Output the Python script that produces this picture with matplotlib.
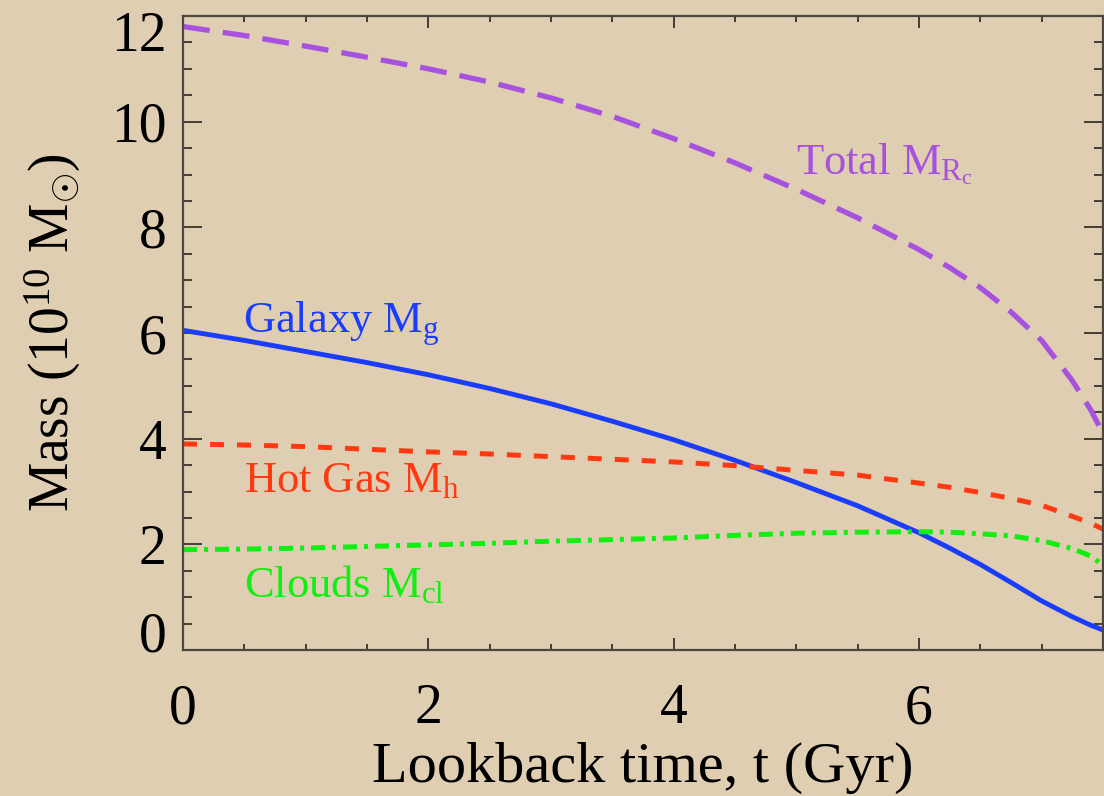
import matplotlib
matplotlib.use("Agg")
import matplotlib.pyplot as plt
import matplotlib.transforms as mtransforms
import numpy as np

plt.rcParams['font.family'] = ['Liberation Serif', 'DejaVu Serif']
plt.rcParams['mathtext.fontset'] = 'custom'
plt.rcParams['mathtext.rm'] = 'Liberation Serif'
plt.rcParams['mathtext.it'] = 'Liberation Serif:italic'

# lookback time (Gyr) and masses (10^10 Msun)
t = [0.0, 0.5, 1.0, 1.5, 2.0, 2.5, 3.0, 3.5, 4.0, 4.5, 5.0, 5.5, 6.0,
     6.25, 6.5, 6.75, 7.0, 7.25, 7.4, 7.5]
m_total = [11.80, 11.63, 11.43, 11.22, 11.00, 10.75, 10.45, 10.10, 9.68, 9.22,
           8.72, 8.18, 7.58, 7.24, 6.86, 6.40, 5.86, 5.10, 4.55, 4.10]
m_galaxy = [6.05, 5.86, 5.65, 5.44, 5.21, 4.95, 4.66, 4.33, 3.98, 3.59,
            3.17, 2.73, 2.22, 1.93, 1.62, 1.28, 0.93, 0.63, 0.47, 0.38]
m_hot = [3.90, 3.88, 3.85, 3.80, 3.75, 3.71, 3.66, 3.61, 3.56, 3.49,
         3.40, 3.31, 3.16, 3.08, 2.98, 2.87, 2.74, 2.53, 2.40, 2.29]
m_clouds = [1.90, 1.91, 1.93, 1.96, 1.99, 2.02, 2.06, 2.09, 2.12, 2.17,
            2.21, 2.23, 2.24, 2.23, 2.20, 2.16, 2.07, 1.92, 1.78, 1.61]

yticks = [0, 2, 4, 6, 8, 10, 12]
xticks = [0, 2, 4, 6]

bg = '#dfceb1'
fig = plt.figure(figsize=(11.04, 7.96), dpi=100, facecolor=bg)
ax = fig.add_axes([0.1658, 0.1834, 0.8332, 0.7965])
ax.set_facecolor(bg)

ax.plot(t, m_total, color='#a652df', lw=3.8, dashes=(5.1, 2.5))
ax.plot(t, m_galaxy, color='#1a3cfb', lw=3.5)
ax.plot(t, m_hot, color='#ff3a12', lw=3.6, dashes=(2.8, 2.6))
ax.plot(t, m_clouds, color='#11ee11', lw=3.6, dashes=(2.8, 1.4, 0.8, 1.4))

lab = dict(fontsize=32, va='baseline', ha='left')
ax.text(0.49, 6.0, r'Galaxy M$_{\mathrm{g}}$', color='#1a3cfb', **lab)
ax.text(0.50, 3.0, r'Hot Gas M$_{\mathrm{h}}$', color='#ff3a12', **lab)
ax.text(0.50, 1.0, r'Clouds M$_{\mathrm{cl}}$', color='#11ee11', **lab)
ax.text(5.00, 9.0, r'Total M$_{\mathrm{R_c}}$', color='#a652df', **lab)

ax.set_xlim(0, 7.5)
ax.set_ylim(0, 12)
ax.set_xticks(xticks)
ax.set_yticks(yticks)
ax.set_xticks(np.arange(0, 7.51, 0.5), minor=True)
ax.set_yticks(np.arange(0, 12.01, 0.5), minor=True)

for s in ax.spines.values():
    s.set_color('#4d463f')
    s.set_linewidth(1.6)

ax.tick_params(axis='both', which='both', direction='in', colors='#2a2520',
               labelcolor='black', top=True, right=True, width=1.2, labelsize=40)
ax.tick_params(axis='y', which='major', length=13.5, pad=12)
ax.tick_params(axis='y', which='minor', length=6.5)
ax.tick_params(axis='x', which='major', length=8.5, pad=24)
ax.tick_params(axis='x', which='minor', length=4.3)

ax.set_xlabel('Lookback time, t (Gyr)', fontsize=42, labelpad=5)
ax.set_ylabel(r'Mass (10$^{10}$ M$_{\odot}$)', fontsize=40, labelpad=20)

# nudge the end labels of the y axis inward
fig.canvas.draw()
ylabs = ax.get_yticklabels()
shift = {0: 13 / 72, len(ylabs) - 1: -11 / 72}
for i, dy in shift.items():
    ylabs[i].set_transform(ylabs[i].get_transform()
                           + mtransforms.ScaledTranslation(0, dy, fig.dpi_scale_trans))

fig.savefig('out.png', dpi=100, facecolor=bg)
